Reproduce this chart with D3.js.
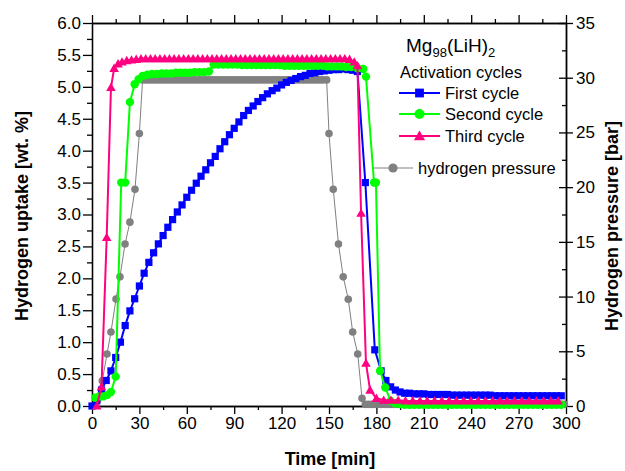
<!DOCTYPE html>
<html>
<head>
<meta charset="utf-8">
<script src="https://cdn.jsdelivr.net/npm/d3@7/dist/d3.min.js"></script>
<style>
  html, body { margin: 0; padding: 0; background: #fff; }
  svg { display: block; font-family: "Liberation Sans", Arial, sans-serif; }
</style>
</head>
<body>
<svg id="chart" width="625" height="471"></svg>
<script>
// ---- Data: hydrogen uptake (wt. %) vs time (min) for three activation cycles ----
const xTicks = [0, 30, 60, 90, 120, 150, 180, 210, 240, 270, 300];
const leftTicks = [0, 0.5, 1, 1.5, 2, 2.5, 3, 3.5, 4, 4.5, 5, 5.5, 6];
const rightTicks = [0, 5, 10, 15, 20, 25, 30, 35];

const firstTime = [0,3,6,9,12,15,18,21,24,27,30,33,36,39,42,45,48,51,54,57,60,63,66,69,72,75,78,81,84,87,90,93,96,99,102,105,108,111,114,117,120,123,126,129,132,135,138,141,144,147,150,153,156,159,162,165,168,
  173,179,183,186,189,192,195,
  198,201,204,207,210,213,216,219,222,225,228,231,234,237,240,243,246,249,252,255,258,261,264,267,270,273,276,279,282,285,288,291,294,297];
const firstUptake = [0.00,0.08,0.25,0.40,0.55,0.76,1.00,1.26,1.49,1.68,1.88,2.08,2.25,2.40,2.54,2.67,2.80,2.92,3.04,3.15,3.27,3.38,3.49,3.60,3.70,3.81,3.91,4.03,4.14,4.25,4.35,4.45,4.55,4.63,4.70,4.77,4.83,4.89,4.94,4.98,5.03,5.07,5.10,5.13,5.16,5.18,5.21,5.22,5.24,5.25,5.26,5.27,5.27,5.28,5.27,5.26,5.24,
  3.50,0.88,0.55,0.40,0.30,0.25,0.22,
  0.20,0.20,0.19,0.19,0.19,0.18,0.18,0.18,0.18,0.18,0.17,0.17,0.17,0.17,0.17,0.17,0.17,0.17,0.17,0.16,0.16,0.16,0.16,0.16,0.16,0.16,0.16,0.16,0.16,0.16,0.16,0.16,0.16,0.16];

const secondTime = [2,4.5,7,9.5,12,15,18.5,21,24,27,29.5,32,
  35,38,41,44,47,50,53,56,59,62,65,68,71,74,
  77,80,83,86,89,92,95,98,101,104,107,110,113,116,119,122,125,128,131,134,137,140,143,146,149,152,155,158,161,164,
  168,171.7,173.4,178.5,179.7,182.3,185.6,
  189,192,195,198,201,204,207,210,213,216,219,222,225,228,231,234,237,240,243,246,249,252,255,258,261,264,267,270,273,276,279,282,285,288,291,294,297];
const secondUptake = [0.13,0.15,0.15,0.17,0.22,0.46,3.50,3.50,4.76,5.04,5.12,5.17,
  5.19,5.20,5.20,5.21,5.21,5.21,5.22,5.22,5.22,5.22,5.23,5.23,5.23,5.24,
  5.35,5.35,5.35,5.35,5.35,5.35,5.34,5.34,5.34,5.34,5.34,5.34,5.34,5.34,5.34,5.33,5.33,5.33,5.33,5.33,5.33,5.33,5.33,5.33,5.32,5.32,5.32,5.32,5.31,5.31,
  5.29,5.28,5.16,3.50,3.50,0.55,0.29,
  0.08,0.04,0.03,0.02,0.02,0.02,0.02,0.02,0.02,0.02,0.02,0.02,0.02,0.02,0.02,0.02,0.02,0.02,0.02,0.02,0.02,0.02,0.02,0.02,0.02,0.02,0.02,0.02,0.02,0.02,0.02,0.02,0.02,0.02,0.02,0.02,0.02];

const thirdTime = [3,6,9.3,12,14,16.5,19,22,25,28,
  31,34,37,40,43,46,49,52,55,58,61,64,67,70,73,76,79,82,85,88,91,94,97,100,103,106,109,112,115,118,121,124,127,130,133,136,139,142,145,148,151,154,157,160,
  163,166,168,170.3,173.4,176,
  180,184.6,189.2,193.8,198.4,203,207.6,212.2,216.8,221.4,226,230.6,235.2,239.8,244.4,249,253.6,258.2,262.8,267.4,272,276.6,281.2,285.8,290.4,295];
const thirdUptake = [0.00,0.30,2.64,4.99,5.29,5.36,5.39,5.41,5.42,5.43,
  5.44,5.44,5.44,5.44,5.44,5.44,5.44,5.44,5.44,5.44,5.44,5.44,5.44,5.44,5.44,5.44,5.44,5.44,5.44,5.44,5.44,5.44,5.44,5.44,5.44,5.44,5.44,5.44,5.44,5.44,5.44,5.44,5.44,5.44,5.44,5.44,5.44,5.44,5.44,5.44,5.44,5.44,5.44,5.44,
  5.43,5.39,5.33,3.02,0.67,0.25,
  0.12,0.09,0.09,0.09,0.08,0.08,0.08,0.08,0.08,0.08,0.08,0.08,0.08,0.08,0.08,0.08,0.08,0.08,0.08,0.08,0.08,0.08,0.08,0.08,0.08,0.08];

// hydrogen pressure (bar), right axis
const pressureTime = [3.5,6.5,9.5,12,15.2,17.7,20.9,24,27.2,30,32,
  34,36,38,40,42,44,46,48,50,52,54,56,58,60,62,64,66,68,70,72,74,76,78,80,82,84,86,88,90,92,94,96,98,100,102,104,106,108,110,112,114,116,118,120,122,124,126,128,130,132,134,136,138,140,142,144,146,148.5,
  150,152.7,156,159,162.2,165,168.2,170.9,
  173,175,177,179,181,183,185,187,189,191,193,195,197,199,201,203,205,207,209,211,213,215,217,219,221,223,225,227,229,231,233,235,237,239,241,243,245,247,249,251,253,255,257,259,261,263,265,267,269,271,273,275,277,279,281,283,285,287,289,291,293,295,297,299];
const pressureBar = [0.5,2.3,4.75,6.76,9.78,11.8,14.8,16.8,19.8,24.9,29.8,
  29.8,29.8,29.8,29.8,29.8,29.8,29.8,29.8,29.8,29.8,29.8,29.8,29.8,29.8,29.8,29.8,29.8,29.8,29.8,29.8,29.8,29.8,29.8,29.8,29.8,29.8,29.8,29.8,29.8,29.8,29.8,29.8,29.8,29.8,29.8,29.8,29.8,29.8,29.8,29.8,29.8,29.8,29.8,29.8,29.8,29.8,29.8,29.8,29.8,29.8,29.8,29.8,29.8,29.8,29.8,29.8,29.8,29.8,
  24.9,19.8,14.8,11.8,9.75,6.76,4.75,0.7,
  0.15,0.15,0.15,0.15,0.15,0.15,0.15,0.15,0.15,0.15,0.15,0.15,0.15,0.15,0.15,0.15,0.15,0.15,0.15,0.15,0.15,0.15,0.15,0.15,0.15,0.15,0.15,0.15,0.15,0.15,0.15,0.15,0.15,0.15,0.15,0.15,0.15,0.15,0.15,0.15,0.15,0.15,0.15,0.15,0.15,0.15,0.15,0.15,0.15,0.15,0.15,0.15,0.15,0.15,0.15,0.15,0.15,0.15,0.15,0.15,0.15,0.15,0.15,0.15];

// ---- Layout ----
const svg = d3.select("#chart");
const plot = { left: 92, right: 566, top: 23, bottom: 406 };
const x = d3.scaleLinear().domain([0, 300]).range([plot.left, plot.right]);
const yL = d3.scaleLinear().domain([0, 6]).range([plot.bottom, plot.top]);
const yR = d3.scaleLinear().domain([0, 35]).range([plot.bottom, plot.top]);

const tickFont = 17;
const axisColor = "#000";

function styleAxis(g) {
  g.selectAll("path.domain").attr("stroke", axisColor).attr("stroke-width", 1.3);
  g.selectAll(".tick line").attr("stroke", axisColor).attr("stroke-width", 1.3);
  g.selectAll(".tick text").attr("fill", "#000").style("font-size", tickFont + "px")
    .style("font-family", "'Liberation Sans', Arial, sans-serif");
}

const xMinor = xTicks.slice(0, -1).map(d => d + 15);
const lMinor = leftTicks.slice(0, -1).map(d => d + 0.25);
const rMinor = rightTicks.slice(0, -1).map(d => d + 2.5);

// bottom axis
svg.append("g").attr("transform", `translate(0,${plot.bottom})`)
  .call(d3.axisBottom(x).tickValues(xTicks).tickSize(8).tickSizeOuter(0).tickPadding(3).tickFormat(d3.format("d")))
  .call(styleAxis);
svg.append("g").attr("transform", `translate(0,${plot.bottom})`)
  .call(d3.axisBottom(x).tickValues(xMinor).tickSize(4).tickSizeOuter(0).tickFormat(""))
  .call(styleAxis);
// top axis (mirror, no labels)
svg.append("g").attr("transform", `translate(0,${plot.top})`)
  .call(d3.axisTop(x).tickValues(xTicks).tickSize(8).tickSizeOuter(0).tickFormat(""))
  .call(styleAxis);
svg.append("g").attr("transform", `translate(0,${plot.top})`)
  .call(d3.axisTop(x).tickValues(xMinor).tickSize(4).tickSizeOuter(0).tickFormat(""))
  .call(styleAxis);
// left axis: uptake
svg.append("g").attr("transform", `translate(${plot.left},0)`)
  .call(d3.axisLeft(yL).tickValues(leftTicks).tickSize(9).tickSizeOuter(0).tickPadding(2).tickFormat(d3.format(".1f")))
  .call(styleAxis);
svg.append("g").attr("transform", `translate(${plot.left},0)`)
  .call(d3.axisLeft(yL).tickValues(lMinor).tickSize(5).tickSizeOuter(0).tickFormat(""))
  .call(styleAxis);
// right axis: pressure (major ticks cross the line, minor ticks inside)
svg.append("g").attr("transform", `translate(${plot.right},0)`)
  .call(d3.axisRight(yR).tickValues(rightTicks).tickSize(7).tickSizeOuter(0).tickPadding(3).tickFormat(d3.format("d")))
  .call(styleAxis);
svg.append("g").attr("transform", `translate(${plot.right},0)`)
  .call(d3.axisLeft(yR).tickValues(rightTicks).tickSize(7).tickSizeOuter(0).tickFormat(""))
  .call(styleAxis);
svg.append("g").attr("transform", `translate(${plot.right},0)`)
  .call(d3.axisLeft(yR).tickValues(rMinor).tickSize(4).tickSizeOuter(0).tickFormat(""))
  .call(styleAxis);

// ---- Series ----
const zip = (t, v) => t.map((d, i) => ({ t: d, v: v[i] }));
const series = [
  { name: "hydrogen pressure", data: zip(pressureTime, pressureBar), y: yR, color: "#808080", width: 1, marker: "circle", r: 3.8 },
  { name: "First cycle", data: zip(firstTime, firstUptake), y: yL, color: "#0000ff", width: 2, marker: "square", r: 3.6 },
  { name: "Second cycle", data: zip(secondTime, secondUptake), y: yL, color: "#00ff00", width: 2, marker: "circle", r: 4.2 },
  { name: "Third cycle", data: zip(thirdTime, thirdUptake), y: yL, color: "#ff0080", width: 2, marker: "triangle", r: 4.8 }
];

function drawMarker(sel, type, r, color) {
  if (type === "circle") {
    sel.append("circle").attr("r", r).attr("fill", color);
  } else if (type === "square") {
    sel.append("rect").attr("x", -r).attr("y", -r).attr("width", 2 * r).attr("height", 2 * r).attr("fill", color);
  } else {
    sel.append("path").attr("d", `M0,${-r}L${r},${r * 0.75}L${-r},${r * 0.75}Z`).attr("fill", color);
  }
}

series.forEach(s => {
  const g = svg.append("g");
  g.append("path").datum(s.data)
    .attr("fill", "none").attr("stroke", s.color).attr("stroke-width", s.width)
    .attr("d", d3.line().x(d => x(d.t)).y(d => s.y(d.v)));
  g.selectAll("g.pt").data(s.data).join("g").attr("class", "pt")
    .attr("transform", d => `translate(${x(d.t)},${s.y(d.v)})`)
    .each(function () { drawMarker(d3.select(this), s.marker, s.r, s.color); });
});

// ---- Legend ----
const title = svg.append("text").attr("x", 406).attr("y", 52).style("font-size", "19px").attr("fill", "#000");
title.append("tspan").text("Mg");
title.append("tspan").attr("dy", 5).style("font-size", "13px").text("98");
title.append("tspan").attr("dy", -5).text("(LiH)");
title.append("tspan").attr("dy", 5).style("font-size", "13px").text("2");

svg.append("text").attr("x", 400).attr("y", 78).style("font-size", "16.5px").attr("fill", "#000").text("Activation cycles");

const legendRows = [
  { s: series[1], y: 93, x0: 399, x1: 440, tx: 445 },
  { s: series[2], y: 114, x0: 399, x1: 440, tx: 445 },
  { s: series[3], y: 136, x0: 399, x1: 440, tx: 445 },
  { s: series[0], y: 168, x0: 373, x1: 413, tx: 418 }
];
legendRows.forEach(row => {
  const g = svg.append("g");
  g.append("line").attr("x1", row.x0).attr("x2", row.x1).attr("y1", row.y).attr("y2", row.y)
    .attr("stroke", row.s.color).attr("stroke-width", row.s.width);
  const m = g.append("g").attr("transform", `translate(${(row.x0 + row.x1) / 2},${row.y})`);
  drawMarker(m, row.s.marker, row.s.r + 0.8, row.s.color);
  g.append("text").attr("x", row.tx).attr("y", row.y + 6).style("font-size", "16.5px").attr("fill", "#000").text(row.s.name);
});

// ---- Axis titles ----
svg.append("text").attr("transform", "translate(28,216) rotate(-90)").attr("text-anchor", "middle")
  .style("font-size", "18px").style("font-weight", "bold").text("Hydrogen uptake [wt. %]");
svg.append("text").attr("x", 330).attr("y", 465).attr("text-anchor", "middle")
  .style("font-size", "18px").style("font-weight", "bold").text("Time [min]");
svg.append("text").attr("transform", "translate(618,226) rotate(-90)").attr("text-anchor", "middle")
  .style("font-size", "18px").style("font-weight", "bold").text("Hydrogen pressure [bar]");
</script>
</body>
</html>
